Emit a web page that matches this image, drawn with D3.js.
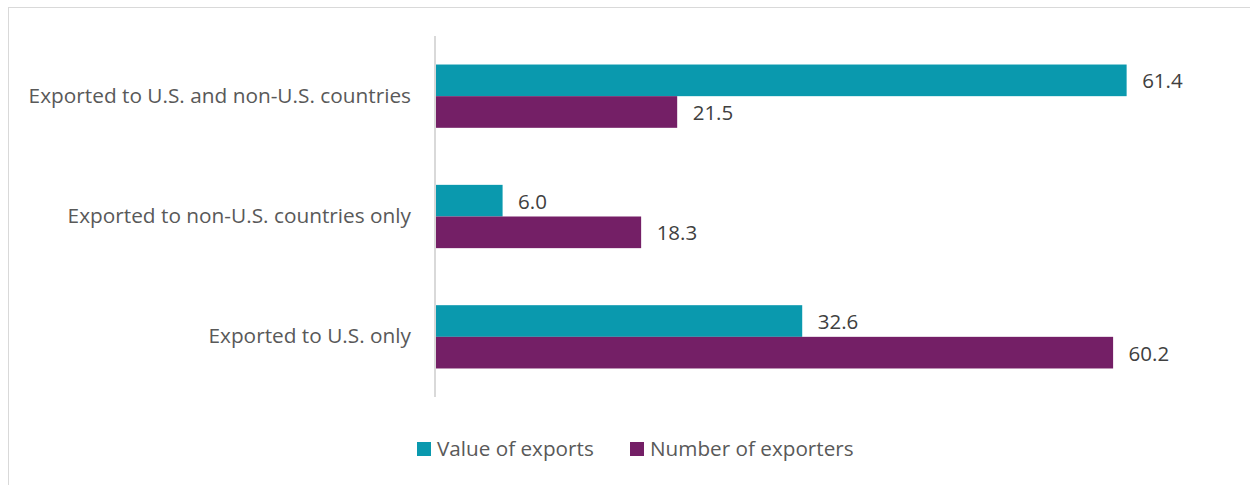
<!DOCTYPE html>
<html>
<head>
<meta charset="utf-8">
<script src="https://cdn.jsdelivr.net/npm/d3@7"></script>
<style>
  html, body { margin: 0; padding: 0; background: #fff; }
  svg { display: block; }
  text { font-family: "Open Sans", "Lato", sans-serif; }
</style>
</head>
<body>
<svg id="chart" width="1250" height="485"></svg>
<script>
// Export destination groups (top to bottom)
const categories = [
  "Exported to U.S. and non-U.S. countries",
  "Exported to non-U.S. countries only",
  "Exported to U.S. only"
];
const seriesNames = ["Value of exports", "Number of exporters"];
const valueOfExports = [61.4, 6.0, 32.6];
const numberOfExporters = [21.5, 18.3, 60.2];
const seriesColors = ["#0a99ae", "#741f66"];

const rows = categories.map((c, i) => ({
  category: c,
  values: [valueOfExports[i], numberOfExporters[i]]
}));

const svg = d3.select("#chart");
const W = 1250, H = 485;
const FONT = "'Open Sans', Lato, sans-serif";

// Outer chart frame (continues past the right and bottom edges)
svg.append("rect")
  .attr("x", 8.5).attr("y", 7.5)
  .attr("width", W + 20).attr("height", H + 20)
  .attr("fill", "none")
  .attr("stroke", "#d9d9d9")
  .attr("stroke-width", 1);

const plot = { left: 435, right: 1223.5, top: 36, bottom: 397 };

const x = d3.scaleLinear().domain([0, 70]).range([plot.left, plot.right]);
const y = d3.scaleBand()
  .domain(categories)
  .range([plot.top, plot.bottom])
  .paddingInner(0.474)
  .paddingOuter(0.237);
const ySub = d3.scaleBand()
  .domain(d3.range(seriesNames.length))
  .range([0, y.bandwidth()]);

// Bars
const groups = svg.append("g").selectAll("g")
  .data(rows)
  .join("g")
  .attr("transform", d => `translate(0,${y(d.category)})`);

groups.selectAll("rect")
  .data(d => d.values.map((v, k) => ({ v, k })))
  .join("rect")
  .attr("x", x(0))
  .attr("y", d => ySub(d.k))
  .attr("width", d => x(d.v) - x(0))
  .attr("height", ySub.bandwidth())
  .attr("fill", d => seriesColors[d.k]);

// Value labels
groups.selectAll("text.val")
  .data(d => d.values.map((v, k) => ({ v, k })))
  .join("text")
  .attr("class", "val")
  .attr("x", d => x(d.v) + 15.5)
  .attr("y", d => ySub(d.k) + ySub.bandwidth() / 2 + 0.5)
  .attr("dy", "0.36em")
  .attr("font-size", 20.5)
  .attr("fill", "#404040")
  .text(d => d3.format(".1f")(d.v));

// Category axis
const yAxis = d3.axisLeft(y).tickSize(0).tickPadding(24);
const ag = svg.append("g")
  .attr("transform", `translate(${plot.left},0)`)
  .call(yAxis);
ag.select(".domain")
  .attr("stroke", "#d9d9d9")
  .attr("stroke-width", 2)
  .attr("d", `M0,${plot.top}V${plot.bottom}`);
ag.selectAll(".tick text")
  .attr("font-family", FONT)
  .attr("font-size", 20.8)
  .attr("fill", "#595959");

// Legend
const legendItems = [
  { name: seriesNames[0], color: seriesColors[0], x: 417 },
  { name: seriesNames[1], color: seriesColors[1], x: 630 }
];
const lg = svg.append("g").selectAll("g")
  .data(legendItems)
  .join("g")
  .attr("transform", d => `translate(${d.x},442)`);
lg.append("rect")
  .attr("width", 14).attr("height", 14)
  .attr("fill", d => d.color);
lg.append("text")
  .attr("x", 20).attr("y", 7)
  .attr("dy", "0.36em")
  .attr("font-size", 20.7)
  .attr("fill", "#595959")
  .text(d => d.name);
</script>
</body>
</html>
